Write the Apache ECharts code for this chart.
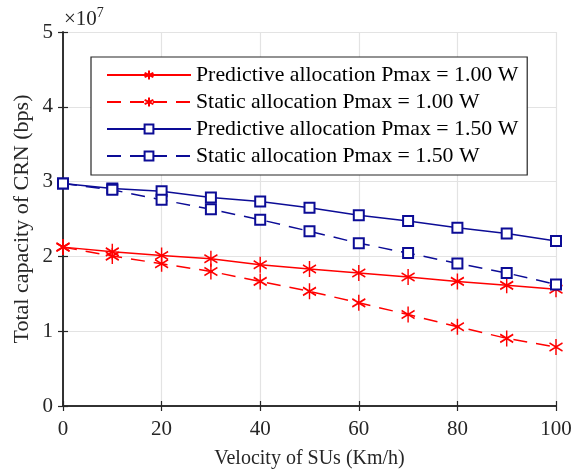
<!DOCTYPE html>
<html><head><meta charset="utf-8">
<script src="https://cdn.jsdelivr.net/npm/echarts@6/dist/echarts.min.js"></script>
<style>html,body{margin:0;padding:0;background:#fff}#c{width:587px;height:474px}</style>
</head><body><div id="c"></div>
<script>
const velocity = [0,10,20,30,40,50,60,70,80,90,100];
const predictive100 = [2.124,2.061,2.012,1.968,1.888,1.831,1.778,1.725,1.666,1.613,1.560];
const static100 = [2.124,2.004,1.902,1.799,1.666,1.533,1.379,1.223,1.060,0.904,0.789];
const predictive150 = [2.975,2.908,2.872,2.789,2.735,2.650,2.549,2.473,2.384,2.305,2.207];
const static150 = [2.975,2.890,2.757,2.629,2.491,2.336,2.177,2.044,1.906,1.778,1.626];
const seriesNames = ['Predictive allocation Pmax = 1.00 W','Static allocation Pmax = 1.00 W','Predictive allocation Pmax = 1.50 W','Static allocation Pmax = 1.50 W'];
const xTicks = [0,20,40,60,80,100];
const yTicks = [0,1,2,3,4,5];

const FONT = 'Liberation Serif';
const RED = '#ff0000', BLUE = '#0c0c96';
const AX = '#262626';
const star = 'path://M0,-10L0,10M-8.66,-5L8.66,5M-8.66,5L8.66,-5';
function pts(v){ return velocity.map((x,i)=>[x,v[i]]); }
function mk(name, data, color, dashed, isStar){
  return {
    name, type:'line', data: pts(data),
    symbol: isStar ? star : 'emptyRect',
    symbolSize: isStar ? [13,16] : 10,
    showAllSymbol: true,
    lineStyle:{color, width:1.5, type: dashed ? [14,9] : 'solid'},
    itemStyle:{color: color, borderColor: color, borderWidth: 1.6},
    emphasis:{disabled:true}, animation:false
  };
}
const chart = echarts.init(document.getElementById('c'), null, {renderer:'canvas'});
const axLine = {show:true, lineStyle:{color:AX, width:1.5}};
chart.setOption({
  backgroundColor:'#fff',
  textStyle:{fontFamily:FONT},
  grid:{left:63, right:31, top:32, bottom:66, containLabel:false},
  xAxis:[{
    type:'value', min:0, max:100, interval:20,
    axisLine:axLine, axisTick:{inside:true, length:5, lineStyle:{color:AX,width:1.2}},
    axisLabel:{color:'#262626', fontSize:21, fontFamily:FONT, margin:13},
    splitLine:{show:true, lineStyle:{color:'#e3e3e3', width:1.2}},
    name:'Velocity of SUs (Km/h)', nameLocation:'middle', nameGap:43,
    nameTextStyle:{color:'#262626', fontSize:20, fontFamily:FONT}
  },{
    type:'value', min:0, max:100, interval:20, position:'top',
    axisLine:axLine, axisTick:{inside:true, length:5, lineStyle:{color:AX,width:1.2}},
    axisLabel:{show:false}, splitLine:{show:false}
  }],
  yAxis:[{
    type:'value', min:0, max:5, interval:1,
    axisLine:axLine, axisTick:{inside:true, length:5, lineStyle:{color:AX,width:1.2}},
    axisLabel:{color:'#262626', fontSize:21, fontFamily:FONT, margin:10},
    splitLine:{show:true, lineStyle:{color:'#e3e3e3', width:1.2}},
    name:'Total capacity of CRN (bps)', nameLocation:'middle', nameGap:30, nameRotate:90,
    nameMoveOverlap:false,
    nameTextStyle:{color:'#262626', fontSize:22, fontFamily:FONT}
  },{
    type:'value', min:0, max:5, interval:1, position:'right',
    axisLine:axLine, axisTick:{inside:true, length:5, lineStyle:{color:AX,width:1.2}},
    axisLabel:{show:false}, splitLine:{show:false}
  }],
  legend:{
    orient:'vertical', left:91, top:57, data:seriesNames,
    itemWidth:84, itemHeight:11, itemGap:5,
    padding:[7,9,8,15],
    backgroundColor:'#fff', borderColor:AX, borderWidth:1.2,
    textStyle:{color:'#000', fontSize:21.8, fontFamily:FONT},
    selectedMode:false
  },
  graphic:[{
    type:'text', left:64, top:6,
    style:{text:'{a|×10}{b|7}', rich:{
      a:{fontSize:21, fontFamily:FONT, fill:'#262626', verticalAlign:'bottom'},
      b:{fontSize:14, fontFamily:FONT, fill:'#262626', verticalAlign:'top', padding:[0,0,10,0]}
    }}
  }],
  series:[
    mk(seriesNames[0], predictive100, RED, false, true),
    mk(seriesNames[1], static100, RED, true, true),
    mk(seriesNames[2], predictive150, BLUE, false, false),
    mk(seriesNames[3], static150, BLUE, true, false)
  ]
});
</script></body></html>
